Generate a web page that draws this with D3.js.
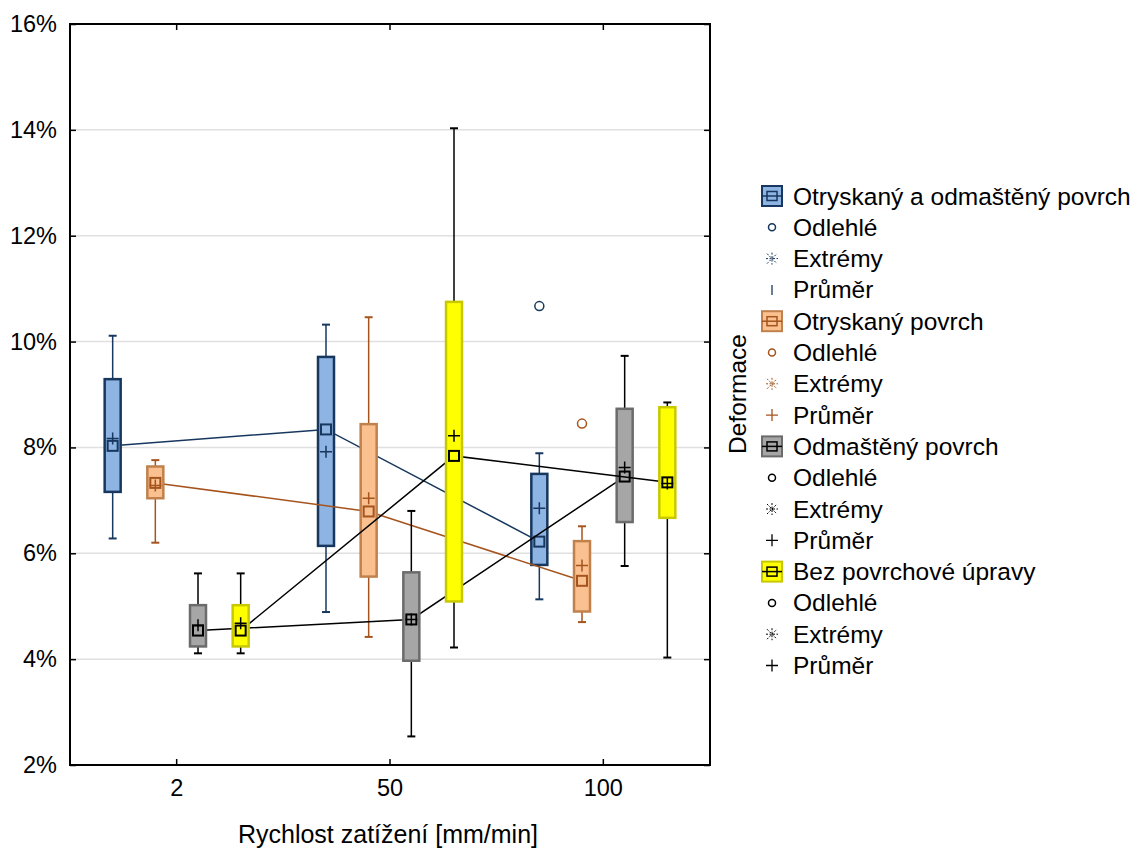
<!DOCTYPE html>
<html>
<head>
<meta charset="utf-8">
<script src="https://cdn.jsdelivr.net/npm/d3@7"></script>
<style>
  body { margin: 0; background: #fff; }
  svg text { font-family: "Liberation Sans", Arial, sans-serif; fill: #000; }
</style>
</head>
<body>
<div id="chart"></div>
<script>
// rychlosti zatížení (kategorie na ose x)
var categories = ["2", "50", "100"];
var seriesNames = ["Otryskaný a odmaštěný povrch", "Otryskaný povrch", "Odmaštěný povrch", "Bez povrchové úpravy"];

// hodnoty v % (pořadí: 2, 50, 100)
var whiskerLow = [[6.28, 4.89, 5.13], [6.20, 4.42, 4.70], [4.11, 2.54, 5.76], [4.11, 4.22, 4.03]];
var q1         = [[7.16, 6.14, 5.78], [7.04, 5.56, 4.90], [4.24, 3.97, 6.59], [4.24, 5.09, 6.67]];
var median     = [[8.03, 8.34, 6.22], [7.33, 6.79, 5.48], [4.54, 4.75, 7.45], [4.54, 7.84, 7.34]];
var q3         = [[9.29, 9.71, 7.50], [7.64, 8.44, 6.23], [5.02, 5.64, 8.73], [5.02, 10.75, 8.76]];
var whiskerHigh= [[10.11, 10.32, 7.89], [7.76, 10.46, 6.51], [5.62, 6.80, 9.73], [5.62, 14.03, 8.85]];
var means      = [[8.17, 7.92, 6.85], [7.28, 7.04, 5.77], [4.64, 4.75, 7.62], [4.68, 8.22, 7.32]];
// odlehlé body: [série, kategorie, hodnota]
var outliers = [[0, 2, 10.67], [1, 2, 8.45]];
var yTicks = [2, 4, 6, 8, 10, 12, 14, 16];

var fills   = ["#8EB4E3", "#FAC090", "#A6A6A6", "#FFFF00"];
var strokes = ["#17375E", "#C0814C", "#6B6B6B", "#C8C800"];
var lines   = ["#17375E", "#A5541E", "#000000", "#000000"];

var width = 1136, height = 849;
var margins = {left: 70, right: 426, top: 24, bottom: 84};
var w = width - margins.left - margins.right;
var h = height - margins.top - margins.bottom;

var svg = d3.select("#chart").append("svg")
    .attr("width", width)
    .attr("height", height);

var g = svg.append("g")
    .attr("transform", "translate(" + margins.left + "," + margins.top + ")");

var x = d3.scaleBand()
    .domain(categories)
    .range([0, w]);
var xs = d3.scalePoint()
    .domain(d3.range(seriesNames.length))
    .range([-0.3 * x.bandwidth(), 0.3 * x.bandwidth()]);
var y = d3.scaleLinear()
    .domain([2, 16])
    .range([h, 0]);

// mřížka
g.append("g").selectAll("line")
    .data(yTicks.slice(1, -1))
    .enter().append("line")
    .attr("x1", 0).attr("x2", w)
    .attr("y1", (d) => y(d)).attr("y2", (d) => y(d))
    .style("stroke", "#E0E0E0")
    .style("stroke-width", 1.5);

// osy (ticky dovnitř)
var yAxis = g.append("g")
    .call(d3.axisLeft(y).tickValues(yTicks).tickSize(-6).tickPadding(13).tickFormat((d) => d + "%"));
var yAxisR = g.append("g")
    .attr("transform", "translate(" + w + ",0)")
    .call(d3.axisRight(y).tickValues(yTicks).tickSize(-6).tickFormat(""));
var xAxis = g.append("g")
    .attr("transform", "translate(0," + h + ")")
    .call(d3.axisBottom(x).tickSize(-6).tickPadding(14));
var xAxisT = g.append("g")
    .call(d3.axisTop(x).tickSize(-6).tickFormat(""));
[yAxis, yAxisR, xAxis, xAxisT].forEach(function(a){
    a.select(".domain").remove();
    a.selectAll("line").style("stroke", "#000").style("stroke-width", 1.5);
    a.selectAll("text").style("font-size", "23.5px").style("font-family", "Liberation Sans, Arial, sans-serif");
});
g.append("rect")
    .attr("width", w).attr("height", h)
    .style("fill", "none").style("stroke", "#000").style("stroke-width", 2);

function cx(s, c) { return x(categories[c]) + x.bandwidth() / 2 + xs(s); }

var boxW = 16, capW = 8, sq = 10, plus = 6;

seriesNames.forEach(function(name, s){
    var gs = g.append("g");
    var idx = d3.range(categories.length);
    // spojnice mediánů
    gs.append("path")
        .datum(idx)
        .attr("d", d3.line().x((c) => cx(s, c)).y((c) => y(median[s][c])))
        .style("fill", "none").style("stroke", lines[s]).style("stroke-width", 1.5);
    idx.forEach(function(c){
        var xc = cx(s, c);
        var wc = s === 0 ? strokes[0] : lines[s];
        gs.append("line")
            .attr("x1", xc).attr("x2", xc)
            .attr("y1", y(whiskerLow[s][c])).attr("y2", y(whiskerHigh[s][c]))
            .style("stroke", wc).style("stroke-width", 1.5);
        [whiskerLow[s][c], whiskerHigh[s][c]].forEach(function(v){
            gs.append("line")
                .attr("x1", xc - capW / 2).attr("x2", xc + capW / 2)
                .attr("y1", y(v)).attr("y2", y(v))
                .style("stroke", wc).style("stroke-width", 2);
        });
        gs.append("rect")
            .attr("x", xc - boxW / 2).attr("y", y(q3[s][c]))
            .attr("width", boxW).attr("height", y(q1[s][c]) - y(q3[s][c]))
            .style("fill", fills[s]).style("stroke", strokes[s]).style("stroke-width", 2.5);
        gs.append("rect")
            .attr("x", xc - sq / 2).attr("y", y(median[s][c]) - sq / 2)
            .attr("width", sq).attr("height", sq)
            .style("fill", "none").style("stroke", lines[s]).style("stroke-width", 2);
        var ym = y(means[s][c]);
        gs.append("path")
            .attr("d", "M" + (xc - plus) + "," + ym + "H" + (xc + plus) + "M" + xc + "," + (ym - plus) + "V" + (ym + plus))
            .style("fill", "none").style("stroke", lines[s]).style("stroke-width", 1.5);
    });
});

// odlehlé hodnoty
g.append("g").selectAll("circle")
    .data(outliers)
    .enter().append("circle")
    .attr("cx", (d) => cx(d[0], d[1]))
    .attr("cy", (d) => y(d[2]))
    .attr("r", 4.5)
    .style("fill", "none")
    .style("stroke", (d) => lines[d[0]])
    .style("stroke-width", 1.5);

// popisky os
svg.append("text")
    .attr("x", margins.left + w / 2 - 2).attr("y", 843)
    .attr("text-anchor", "middle")
    .style("font-size", "25px")
    .text("Rychlost zatížení [mm/min]");
svg.append("text")
    .attr("transform", "translate(746,394) rotate(-90)")
    .attr("text-anchor", "middle")
    .style("font-size", "24.5px")
    .text("Deformace");

// legenda
var legendRows = [];
seriesNames.forEach(function(name, s){
    legendRows.push({type: "box", s: s, label: name});
    legendRows.push({type: "out", s: s, label: "Odlehlé"});
    legendRows.push({type: "ext", s: s, label: "Extrémy"});
    legendRows.push({type: "mean", s: s, label: "Průměr"});
});
var lg = svg.append("g").attr("transform", "translate(772,196)");
var row = lg.selectAll("g")
    .data(legendRows)
    .enter().append("g")
    .attr("transform", (d, i) => "translate(0," + (i * 31.3) + ")");
row.append("text")
    .attr("x", 21).attr("y", 8.5)
    .style("font-size", "24.5px")
    .text((d) => d.label);
row.each(function(d){
    var r = d3.select(this);
    var col = lines[d.s];
    if (d.type === "box") {
        r.append("rect").attr("x", -10).attr("y", -10).attr("width", 20).attr("height", 20)
            .style("fill", fills[d.s]).style("stroke", strokes[d.s]).style("stroke-width", 2);
        r.append("line").attr("x1", -10).attr("x2", 10).attr("y1", 0).attr("y2", 0)
            .style("stroke", col).style("stroke-width", 1.5);
        r.append("rect").attr("x", -5).attr("y", -4.5).attr("width", 10).attr("height", 9)
            .style("fill", "none").style("stroke", col).style("stroke-width", 1.5);
    } else if (d.type === "out") {
        r.append("circle").attr("r", 3.5)
            .style("fill", "none").style("stroke", col).style("stroke-width", 1.5);
    } else if (d.type === "ext") {
        r.append("path")
            .attr("d", "M-6,0H6M0,-6V6M-5,-5L5,5M-5,5L5,-5")
            .style("fill", "none").style("stroke", col).style("stroke-width", 1)
            .style("stroke-dasharray", "2,1.5");
    } else {
        var p = d.s === 0 ? "M0,-5V5" : "M-6,0H6M0,-6V6";
        r.append("path").attr("d", p)
            .style("fill", "none").style("stroke", col).style("stroke-width", 1.3);
    }
});
</script>
</body>
</html>
